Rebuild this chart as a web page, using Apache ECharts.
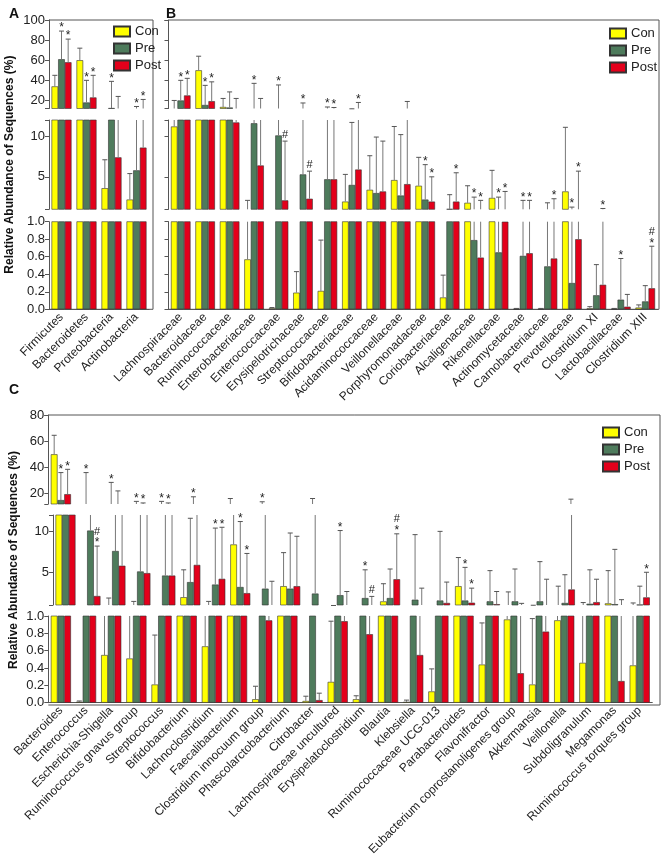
<!DOCTYPE html>
<html lang="en">
<head>
<meta charset="UTF-8" />
<title>Relative abundance</title>
<style>
    * { margin: 0; padding: 0; box-sizing: border-box; }
    body { background: #fff; }
    #chart { width: 666px; height: 858px; }
</style>
</head>
<body>
<div id="chart"></div>
<script src="https://cdn.jsdelivr.net/npm/echarts@6/dist/echarts.min.js"></script>
<script>
var groupNames = ['Con', 'Pre', 'Post'];
var groupColors = ['#FFFF00', '#4E7B5C', '#E3001B'];

// A: phylum
var catsA = ['Firmicutes', 'Bacteroidetes', 'Proteobacteria', 'Actinobacteria'];
var conA = [34, 60, 3.6, 2.2];
var conAHi = [45, 72, 7.1, 5.4];
var preA = [61, 18, 12.5, 5.8];
var preAHi = [89, 40, 39, 14];
var postA = [58, 23, 7.4, 8.6];
var postAHi = [81, 45, 24, 21];
var conAMark = ['', '', '', ''];
var preAMark = ['*', '*', '*', '*'];
var postAMark = ['*', '*', '', '*'];

// B: family
var catsB = ['Lachnospiraceae', 'Bacteroidaceae', 'Ruminococcaceae', 'Enterobacteriaceae', 'Enterococcaceae',
    'Erysipelotrichaceae', 'Streptococcaceae', 'Bifidobacteriaceae', 'Acidaminococcaceae', 'Veillonellaceae',
    'Porphyromonadaceae', 'Coriobacteriaceae', 'Alcaligenaceae', 'Rikenellaceae', 'Actinomycetaceae',
    'Carnobacteriaceae', 'Prevotellaceae', 'Clostridium XI', 'Lactobacillaceae', 'Clostridium XIII'];
var conB = [11.2, 50, 13.5, 0.57, 0.01, 0.19, 0.21, 1.95, 3.4, 4.6, 3.9, 0.135, 1.8, 2.4, 0.005, 0.005, 3.2, 0.01, 0.005, 0.02];
var conBHi = [20, 64, 22, 2.1, 0.02, 0.43, 0.79, 5.3, 7.6, 11.2, 7.4, 0.39, 3.9, 5.8, 0.01, 0.01, 11.1, 0.03, 0.01, 0.05];
var preB = [20, 15.5, 13, 11.6, 10.1, 5.3, 4.7, 4.0, 3.0, 2.7, 2.2, 1.05, 0.79, 0.65, 0.61, 0.49, 0.30, 0.16, 0.11, 0.09];
var preBHi = [40, 35, 28.5, 37, 35.4, 17.5, 13.5, 11.7, 9.9, 10.2, 6.5, 2.8, 2.5, 2.5, 2.1, 1.8, 1.27, 0.51, 0.58, 0.27];
var postB = [25, 19.3, 11.7, 6.4, 2.1, 2.3, 4.7, 5.9, 3.2, 4.1, 1.95, 1.95, 0.59, 1.0, 0.64, 0.58, 0.80, 0.28, 0.03, 0.24];
var postBHi = [42, 38.5, 22, 22, 9.4, 5.7, 13, 18, 9.4, 19, 5.0, 5.5, 2.1, 3.2, 2.1, 2.3, 5.7, 1.1, 0.17, 0.72];
var conBMark = ['', '', '', '', '', '', '', '', '', '', '', '', '', '', '', '', '', '', '', ''];
var preBMark = ['*', '*', '', '*', '*', '*', '*', '', '', '', '*', '', '*', '*', '*', '', '*', '', '*', ''];
var postBMark = ['*', '*', '', '', '#', '#', '*', '*', '', '', '*', '*', '*', '*', '*', '*', '*', '*', '', '*#'];

// C: genus
var catsC = ['Bacteroides', 'Enterococcus', 'Escherichia-Shigella', 'Ruminococcus gnavus group', 'Streptococcus',
    'Bifidobacterium', 'Lachnoclostridium', 'Faecalibacterium', 'Clostridium innocuum group', 'Phascolarctobacterium',
    'Citrobacter', 'Lachnospiraceae uncultured', 'Erysipelatoclostridium', 'Blautia', 'Klebsiella',
    'Ruminococcaceae UCG-013', 'Parabacteroides', 'Flavonifractor', 'Eubacterium coprostanoligenes group',
    'Akkermansia', 'Veillonella', 'Subdoligranulum', 'Megamonas', 'Ruminococcus torques group'];
var conC = [50, 0.01, 0.55, 0.51, 0.21, 1.95, 0.65, 8.4, 0.04, 3.3, 0.02, 0.24, 0.04, 1.44, 0.01, 0.13, 3.3, 0.44, 0.96, 0.21, 0.95, 0.46, 1.2, 0.43];
var conCHi = [64.5, 0.02, 1.85, 1.44, 0.78, 5.3, 1.44, 16.2, 0.19, 7.4, 0.075, 0.94, 0.08, 3.6, 0.03, 0.39, 6.8, 0.92, 2.6, 0.97, 3.3, 1.3, 5.2, 1.25];
var preC = [15, 10.1, 7.6, 5.1, 4.6, 3.8, 3.5, 3.2, 3.0, 3.0, 2.4, 2.2, 1.85, 1.85, 1.65, 1.55, 1.55, 1.45, 1.45, 1.45, 1.25, 1.15, 1.1, 1.05];
var preCHi = [36, 36, 28.5, 14, 14, 11.6, 10.4, 11.2, 13.7, 9.8, 16.2, 10.1, 5.3, 5.4, 9.6, 10.0, 5.6, 5.2, 5.4, 6.3, 4.7, 5.3, 7.8, 3.3];
var postC = [19.5, 2.1, 5.8, 4.9, 4.6, 5.9, 4.2, 2.45, 0.95, 3.3, 0.03, 0.94, 0.79, 4.15, 0.55, 1.25, 1.28, 1.1, 0.34, 0.82, 2.9, 1.35, 0.25, 1.93];
var postCHi = [38.5, 8.2, 22, 12.8, 12.8, 17.5, 10.5, 7.3, 3.9, 9.4, 0.11, 2.65, 2.05, 9.7, 3.06, 3.8, 3.06, 2.65, 1.2, 4.15, 15.7, 4.15, 1.65, 5.0];
var conCMark = ['', '', '', '', '', '', '', '', '', '', '', '', '', '', '', '', '', '', '', '', '', '', '', ''];
var preCMark = ['*', '*', '*', '*', '*', '', '*', '*', '*', '', '', '*', '*', '', '', '', '*', '', '', '', '', '', '', ''];
var postCMark = ['*', '*#', '', '*', '*', '*', '*', '*', '', '', '', '', '#', '*#', '', '', '*', '', '', '', '', '', '', '*'];

// axis tick values of the broken axis
var topTicksAB = [20, 40, 60, 80, 100];
var topTicksC = [20, 40, 60, 80];
var midTicks = [5, 10];

var FONT = '"Liberation Sans", Arial, sans-serif';
var AXIS = '#555';

// segment layout (top / middle / bottom part of the broken y axis)
function segsAB() {
    return [
        { top: 20, height: 88.5, min: 12, max: 100, labels: topTicksAB },
        { top: 120, height: 89.3, min: 1, max: 12, labels: midTicks },
        { top: 221.7, height: 87.6, min: 0, max: 1 }
    ];
}
var panels = [
    { cats: catsA, vals: [conA, preA, postA], hi: [conAHi, preAHi, postAHi], marks: [conAMark, preAMark, postAMark],
      left: 49, width: 100, right: 153, segs: segsAB(), yLabels: true },
    { cats: catsB, vals: [conB, preB, postB], hi: [conBHi, preBHi, postBHi], marks: [conBMark, preBMark, postBMark],
      left: 168.5, width: 489, right: 659, segs: segsAB(), yLabels: false },
    { cats: catsC, vals: [conC, preC, postC], hi: [conCHi, preCHi, postCHi], marks: [conCMark, preCMark, postCMark],
      left: 48.3, width: 604, right: 660, yLabels: true,
      segs: [
          { top: 415, height: 89, min: 12, max: 80, labels: topTicksC },
          { top: 515, height: 90, min: 1, max: 12, labels: midTicks },
          { top: 616, height: 89, min: 0, max: 1 }
      ] }
];

var grids = [], xAxes = [], yAxes = [], barSeries = [], errSeries = [], frames = [];

function errRender(marks, k) {
    return function (params, api) {
        var idx = api.value(0);
        var cs = params.coordSys;
        var band = api.size([1, 0])[0];
        var bw = band * 0.8 / 3;
        var x = api.coord([idx, 0])[0] + (k - 1) * bw;
        var yv = api.coord([idx, api.value(1)])[1];
        var yh = api.coord([idx, api.value(2)])[1];
        var top = cs.y, bottom = cs.y + cs.height;
        if (yv < top - 0.5 || yh > bottom + 0.5) return null;
        var y1 = Math.min(yv, bottom), y2 = Math.max(yh, top);
        var kids = [{
            type: 'line', shape: { x1: x, y1: y1, x2: x, y2: y2 },
            style: { stroke: '#777', lineWidth: 1 }
        }];
        if (yh >= top - 0.5) {
            kids.push({
                type: 'line', shape: { x1: x - 2.5, y1: yh, x2: x + 2.5, y2: yh },
                style: { stroke: '#555', lineWidth: 1 }
            });
            var m = marks[idx] || '';
            if (m.indexOf('*') >= 0) {
                kids.push({ type: 'text', style: { text: '*', x: x, y: yh + 3, align: 'center', verticalAlign: 'bottom',
                    fontSize: 12, fontFamily: FONT, fill: '#222' } });
            }
            if (m.indexOf('#') >= 0) {
                var off = m.indexOf('*') >= 0 ? 9 : 1;
                kids.push({ type: 'text', style: { text: '#', x: x, y: yh - off, align: 'center', verticalAlign: 'bottom',
                    fontSize: 11, fontFamily: FONT, fill: '#222' } });
            }
        }
        return { type: 'group', children: kids };
    };
}

panels.forEach(function (p) {
    p.segs.forEach(function (s, si) {
        var gi = grids.length;
        var isBottom = si === p.segs.length - 1;
        grids.push({ left: p.left, top: s.top, width: p.width, height: s.height });
        xAxes.push({
            gridIndex: gi, type: 'category', data: p.cats, show: isBottom,
            axisLine: { lineStyle: { color: AXIS } },
            axisTick: { alignWithLabel: true, length: 4, lineStyle: { color: AXIS } },
            axisLabel: { rotate: 45, interval: 0, fontSize: 12, margin: 6, color: '#222', fontFamily: FONT }
        });
        var y = {
            gridIndex: gi, type: 'value', min: s.min, max: s.max,
            splitLine: { show: false },
            axisLine: { show: true, lineStyle: { color: AXIS } },
            axisTick: { show: true, length: 4, lineStyle: { color: AXIS } },
            axisLabel: { show: p.yLabels, fontSize: 13, color: '#222', margin: 4, fontFamily: FONT }
        };
        if (s.labels) {
            y.axisTick.customValues = [s.min].concat(s.labels, [s.max]);
            y.axisLabel.customValues = s.labels;
        } else {
            y.interval = 0.2;
            y.axisLabel.formatter = function (v) { return v.toFixed(1); };
        }
        if (si === 1 && p.yLabels) {
            y.name = 'Relative Abundance of Sequences (%)';
            y.nameLocation = 'middle';
            y.nameGap = 33;
            y.nameTextStyle = { fontSize: 12, fontWeight: 'bold', color: '#111', fontFamily: FONT };
        }
        yAxes.push(y);
        groupNames.forEach(function (g, k) {
            barSeries.push({
                type: 'bar', name: g, xAxisIndex: gi, yAxisIndex: gi, data: p.vals[k],
                barGap: '0%', barCategoryGap: '20%', clip: true, silent: true,
                itemStyle: { color: groupColors[k], borderColor: '#333', borderWidth: 0.6 }
            });
            errSeries.push({
                type: 'custom', name: 'err', xAxisIndex: gi, yAxisIndex: gi, z: 5, silent: true,
                encode: { x: 0, y: [1, 2] },
                data: p.cats.map(function (c, i) { return [i, p.vals[k][i], p.hi[k][i]]; }),
                renderItem: errRender(p.marks[k], k)
            });
        });
    });
    var t = p.segs[0].top, last = p.segs[p.segs.length - 1];
    var b = last.top + last.height;
    frames.push({
        type: 'polyline', silent: true,
        shape: { points: [[p.left, t], [p.right, t], [p.right, b], [p.left, b]] },
        style: { stroke: AXIS, fill: null, lineWidth: 1 }
    });
});

function legendAt(left, top) {
    return {
        data: groupNames, orient: 'vertical', left: left, top: top, icon: 'rect',
        itemWidth: 16, itemHeight: 10, itemGap: 4, selectedMode: false,
        textStyle: { fontSize: 13, color: '#222', fontFamily: FONT }
    };
}

var chart = echarts.init(document.getElementById('chart'));
chart.setOption({
    animation: false,
    textStyle: { fontFamily: FONT },
    title: [
        { text: 'A', left: 4, top: 2, textStyle: { fontSize: 14, fontWeight: 'bold', color: '#111' } },
        { text: 'B', left: 161, top: 2, textStyle: { fontSize: 14, fontWeight: 'bold', color: '#111' } },
        { text: 'C', left: 4, top: 378, textStyle: { fontSize: 14, fontWeight: 'bold', color: '#111' } }
    ],
    legend: [legendAt(108, 20), legendAt(604, 22), legendAt(597, 421)],
    grid: grids,
    xAxis: xAxes,
    yAxis: yAxes,
    graphic: frames,
    series: barSeries.concat(errSeries)
});
</script>
</body>
</html>
